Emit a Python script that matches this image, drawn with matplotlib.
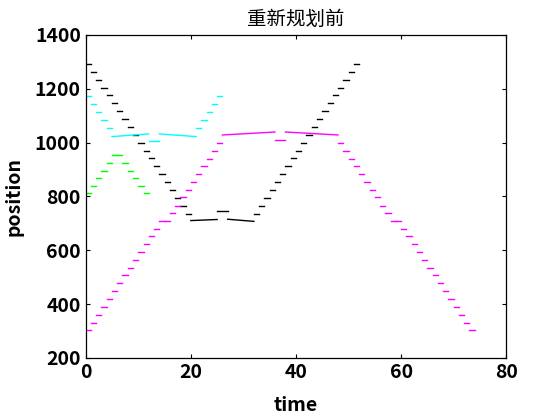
import matplotlib
matplotlib.use('Agg')
import matplotlib.pyplot as plt

plt.rcParams['font.family'] = ['Noto Sans CJK SC', 'DejaVu Sans']

# each moving step is a dash from t to t+1 at position p
black_t = list(range(0, 20)) + list(range(32, 52))
black_p = [1292, 1263, 1234, 1204, 1175, 1146, 1116, 1087, 1058, 1029,
           999, 970, 941, 911, 882, 853, 824, 794, 765, 736,
           736, 765, 794, 824, 853, 882, 911, 941, 970, 999,
           1029, 1058, 1087, 1116, 1146, 1175, 1204, 1234, 1263, 1292]
# waiting parts: (t start, t end, p start, p end)
black_hold = [(20, 25, 710, 714), (25, 27, 744, 744), (27, 32, 715, 707)]

cyan_t = list(range(0, 5)) + list(range(21, 26))
cyan_p = [1171, 1142, 1113, 1083, 1054,
          1054, 1083, 1113, 1142, 1171]
cyan_hold = [(5, 12, 1022, 1032), (12, 14, 1004, 1004), (14, 21, 1032, 1022)]

green_t = list(range(0, 12))
green_p = [812, 840, 868, 896, 924, 952, 952, 924, 896, 868, 840, 812]
green_hold = []

magenta_t = list(range(0, 26)) + list(range(48, 74))
magenta_p = [302, 331, 360, 389, 418, 448, 477, 506, 535, 564,
             593, 622, 651, 680, 708, 708, 737, 766, 796, 825,
             854, 882, 911, 940, 969, 999,
             999, 969, 940, 911, 882, 854, 825, 796, 766, 737,
             708, 708, 680, 651, 622, 593, 564, 535, 506, 477,
             448, 418, 389, 360, 331, 302]
magenta_hold = [(26, 36, 1028, 1039), (36, 38, 1010, 1010), (38, 48, 1039, 1028)]

series = [
    (black_t, black_p, black_hold, (0, 0, 0)),
    (magenta_t, magenta_p, magenta_hold, (1, 0, 1)),
    (cyan_t, cyan_p, cyan_hold, (0, 1, 1)),
    (green_t, green_p, green_hold, (0, 1, 0)),
]

fig = plt.figure(figsize=(5.6, 4.2), dpi=100)
ax = fig.add_axes([0.153, 0.148, 0.751, 0.769])

for ts, ps, holds, c in series:
    for t, p in zip(ts, ps):
        ax.plot([t, t + 1], [p, p], color=c, lw=1.0)
    for t0, t1, p0, p1 in holds:
        ax.plot([t0, t1], [p0, p1], color=c, lw=1.0)

ax.set_xlim(0, 80)
ax.set_ylim(200, 1400)
ax.set_xticks([0, 20, 40, 60, 80])
ax.set_yticks([200, 400, 600, 800, 1000, 1200, 1400])
ax.tick_params(direction='in', length=3, top=True, right=True, labelsize=14)
for lab in ax.get_xticklabels() + ax.get_yticklabels():
    lab.set_fontweight('bold')
for s in ax.spines.values():
    s.set_linewidth(0.9)

ax.set_xlabel('time', fontsize=14, fontweight='bold', labelpad=10)
ax.set_ylabel('position', fontsize=14, fontweight='bold', labelpad=8)
ax.set_title('重新规划前', fontsize=14, pad=7)

fig.savefig('out.png', dpi=100)
